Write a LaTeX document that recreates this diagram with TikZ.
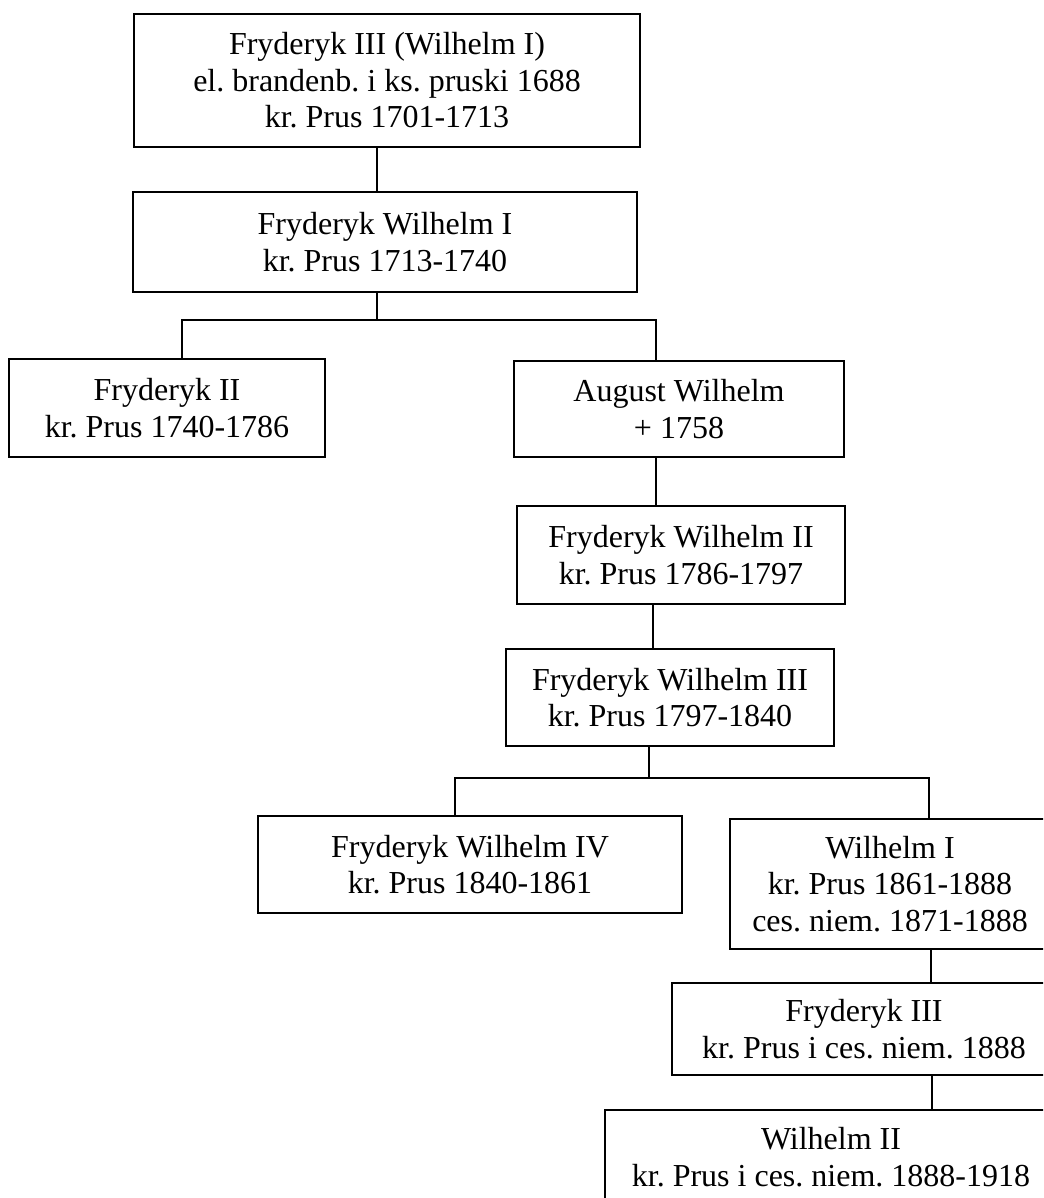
\documentclass[tikz,border=0pt]{standalone}
\usepackage{fontspec}
\setmainfont{Liberation Serif}
\frenchspacing
\begin{document}
\begin{tikzpicture}[x=1pt,y=-1pt,
        person/.style={draw, line width=1.8pt, align=center, inner sep=0pt, font=\fontsize{32}{36.6}\selectfont},
        link/.style={line width=1.4pt}]
                \useasboundingbox (0,0) rectangle (1043,1198);
                \clip (0,0) rectangle (1043,1198);
                \node[person, minimum width=506pt, minimum height=133pt] (fryd3) at (387,80.5) {Fryderyk III (Wilhelm I)\\el. brandenb. i ks. pruski 1688\\kr. Prus 1701-1713};
                \node[person, minimum width=504pt, minimum height=100pt] (frydw1) at (385,242) {Fryderyk Wilhelm I\\kr. Prus 1713-1740};
                \node[person, minimum width=316pt, minimum height=98pt] (fryd2) at (167,408) {Fryderyk II\\kr. Prus 1740-1786};
                \node[person, minimum width=330pt, minimum height=96pt] (augw) at (679,409) {August Wilhelm\\+ 1758};
                \node[person, minimum width=328pt, minimum height=98pt] (frydw2) at (681,555) {Fryderyk Wilhelm II\\kr. Prus 1786-1797};
                \node[person, minimum width=328pt, minimum height=97pt] (frydw3) at (670,697.5) {Fryderyk Wilhelm III\\kr. Prus 1797-1840};
                \node[person, minimum width=424pt, minimum height=97pt] (frydw4) at (470,864.5) {Fryderyk Wilhelm IV\\kr. Prus 1840-1861};
                \node[person, minimum width=320pt, minimum height=130pt] (wilh1) at (890,884) {Wilhelm I\\kr. Prus 1861-1888\\ces. niem. 1871-1888};
                \node[person, minimum width=384pt, minimum height=92pt] (fryd3b) at (864,1029) {Fryderyk III\\kr. Prus i ces. niem. 1888};
                \node[person, minimum width=452pt, minimum height=94pt] (wilh2) at (831,1157) {Wilhelm II\\kr. Prus i ces. niem. 1888-1918};
                \draw[link] ([xshift=-10pt]fryd3.south) -- ([xshift=-8pt]frydw1.north);
                \draw[link] ([xshift=-8pt]frydw1.south) -- ++(0,27) coordinate (j1);
                \draw[link] ([xshift=15pt]fryd2.north) |- (j1) -| ([xshift=-23pt]augw.north);
                \draw[link] ([xshift=-23pt]augw.south) -- ([xshift=-25pt]frydw2.north);
                \draw[link] ([xshift=-28pt]frydw2.south) -- ([xshift=-17pt]frydw3.north);
                \draw[link] ([xshift=-21pt]frydw3.south) -- ++(0,31) coordinate (j2);
                \draw[link] ([xshift=-15pt]frydw4.north) |- (j2) -| ([xshift=39pt]wilh1.north);
                \draw[link] ([xshift=41pt]wilh1.south) -- ([xshift=67pt]fryd3b.north);
                \draw[link] ([xshift=68pt]fryd3b.south) -- ([xshift=101pt]wilh2.north);
            \end{tikzpicture}
\end{document}
